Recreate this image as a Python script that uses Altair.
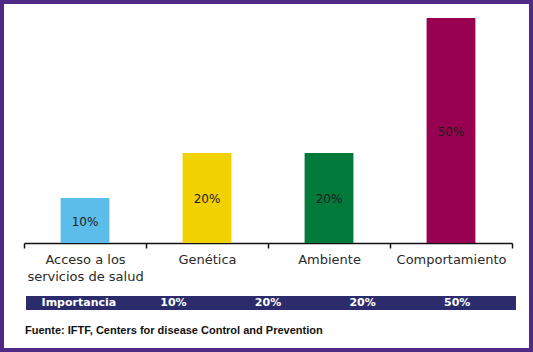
import altair as alt
import pandas as pd

categorias = ["Acceso a los servicios de salud", "Genética", "Ambiente", "Comportamiento"]
valores = [10, 20, 20, 50]
colores = ["#5cbdea", "#f1d200", "#00793a", "#980052"]
etiquetas_valor = ["10%", "20%", "20%", "50%"]
importancia = ["Importancia", "10%", "20%", "20%", "50%"]
fuente = "Fuente: IFTF, Centers for disease Control and Prevention"

FONT = "Liberation Sans"
WIDE = "DejaVu Sans"

df = pd.DataFrame({"categoria": categorias, "valor": valores, "etiqueta": etiquetas_valor})
df_imp = pd.DataFrame({"idx": list(range(len(importancia))), "texto": importancia})
df_src = pd.DataFrame({"texto": [fuente]})

x_enc = alt.X(
    "categoria:N",
    sort=categorias,
    scale=alt.Scale(paddingInner=0, paddingOuter=0),
    axis=alt.Axis(
        title=None,
        labelAngle=0,
        labelFont=WIDE,
        labelFontSize=13,
        labelColor="#2a2a2a",
        labelPadding=5,
        labelLineHeight=17,
        labelExpr="datum.value == 'Acceso a los servicios de salud' ? ['Acceso a los', 'servicios de salud'] : datum.value",
        domainColor="#111111",
        domainWidth=1.5,
        tickColor="#111111",
        tickWidth=1.5,
        tickSize=5,
        tickBand="extent",
        grid=False,
    ),
)
y_scale = alt.Scale(domain=[0, 50], nice=False)

bars = alt.Chart(df).mark_bar(width=alt.RelativeBandSize(0.4)).encode(
    x=x_enc,
    y=alt.Y("valor:Q", scale=y_scale, axis=None),
    color=alt.Color("categoria:N", scale=alt.Scale(domain=categorias, range=colores), legend=None),
)

val_text = alt.Chart(df).transform_calculate(mid="datum.valor / 2").mark_text(
    font=WIDE, fontSize=12, color="#1c1c1c", baseline="middle", dy=1
).encode(
    x=alt.X("categoria:N", sort=categorias),
    y=alt.Y("mid:Q", scale=y_scale, axis=None),
    text="etiqueta:N",
)

main = alt.layer(bars, val_text)

band = alt.Chart(df_src).mark_rect(color="#2c2c6c").encode(
    x=alt.value(2), x2=alt.value(492), y=alt.value(278), y2=alt.value(292)
)

imp_text = alt.Chart(df_imp).mark_text(
    font=WIDE, fontSize=11, fontWeight="bold", color="white", baseline="middle"
).encode(
    x=alt.X("idx:O", scale=alt.Scale(type="point", padding=0.58), axis=None),
    y=alt.value(285),
    text="texto:N",
)

src_text = alt.Chart(df_src).mark_text(
    font=FONT, fontSize=11, fontWeight="bold", color="#111111", align="left", baseline="middle"
).encode(x=alt.value(1), y=alt.value(313), text="texto:N")

frame = alt.Chart(df_src).mark_rect(fill=None, stroke="#4e2a84", strokeWidth=4, fillOpacity=0).encode(
    x=alt.value(-22), x2=alt.value(507), y=alt.value(-16), y2=alt.value(332)
)

chart = alt.layer(main, band, imp_text, src_text, frame).resolve_scale(x="independent").properties(
    width=488,
    height=225,
    padding={"top": 18, "left": 24, "right": 21, "bottom": 109},
    autosize=alt.AutoSizeParams(type="none"),
    background="white",
).configure_view(stroke=None)

chart.save("out.html", embed_options={"renderer": "svg", "actions": False})
